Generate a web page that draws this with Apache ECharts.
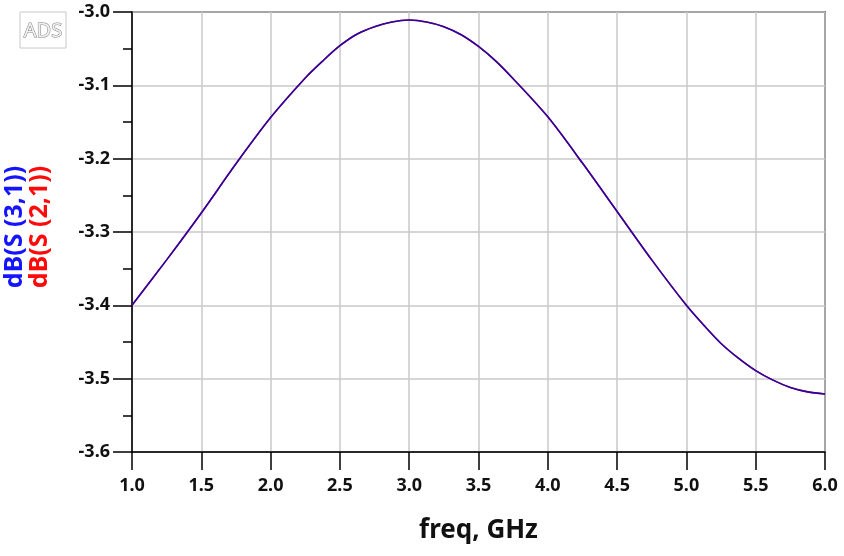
<!DOCTYPE html>
<html>
<head>
<meta charset="utf-8">
<script src="https://cdn.jsdelivr.net/npm/echarts@6/dist/echarts.min.js"></script>
<style>
  html, body { margin: 0; padding: 0; background: #fff; }
  #chart { width: 844px; height: 556px; }
</style>
</head>
<body>
<div id="chart"></div>
<script>
// frequency in GHz (finer sampling where the curve bends most)
const freq = [1.0, 1.25, 1.5, 1.75, 2.0, 2.25, 2.375, 2.5, 2.625, 2.75, 2.875, 3.0, 3.125, 3.25, 3.375, 3.5, 3.625, 3.75, 4.0, 4.25, 4.5, 4.75, 5.0, 5.125, 5.25, 5.375, 5.5, 5.625, 5.75, 5.875, 6.0];
// dB values (S31 and S21 lie on top of each other)
const s31 = [-3.400, -3.338, -3.274, -3.207, -3.144, -3.090, -3.067, -3.046, -3.030, -3.020, -3.0136, -3.011, -3.0136, -3.020, -3.031, -3.047, -3.067, -3.091, -3.143, -3.206, -3.272, -3.338, -3.400, -3.427, -3.452, -3.472, -3.489, -3.502, -3.512, -3.518, -3.521];
const s21 = s31.slice();
const yTicks = [-3.6, -3.5, -3.4, -3.3, -3.2, -3.1, -3.0];

const font = 'Noto Sans';
const chart = echarts.init(document.getElementById('chart'));

const toPairs = (ys) => freq.map((f, i) => [f, ys[i]]);

const option = {
    animation: false,
    grid: {
        left: 132,
        right: 19,
        top: 12,
        bottom: 104,
        show: true,
        borderColor: '#000',
        borderWidth: 1.5,
        backgroundColor: 'transparent'
    },
    xAxis: {
        type: 'value',
        min: 1.0,
        max: 6.0,
        interval: 0.5,
        name: 'freq, GHz',
        nameLocation: 'middle',
        nameGap: 66,
        nameTextStyle: { fontFamily: font, fontWeight: 'bold', fontSize: 26, color: '#111' },
        axisLine: { show: true, lineStyle: { color: '#000', width: 1.5 } },
        axisTick: { show: true, length: 18, lineStyle: { color: '#000', width: 1.5 } },
        axisLabel: {
            margin: 25,
            fontFamily: font,
            fontWeight: 'bold',
            fontSize: 18,
            color: '#111',
            formatter: (v) => v.toFixed(1)
        },
        splitLine: { show: true, lineStyle: { color: '#c8c8c8', width: 1.5 } }
    },
    yAxis: {
        type: 'value',
        min: yTicks[0],
        max: yTicks[yTicks.length - 1],
        interval: 0.1,
        axisLine: { show: true, lineStyle: { color: '#000', width: 1.5 } },
        axisTick: { show: true, length: 19, lineStyle: { color: '#000', width: 1.5 } },
        minorTick: { show: true, splitNumber: 2, length: 9, lineStyle: { color: '#000', width: 1.5 } },
        axisLabel: {
            margin: 22,
            fontFamily: font,
            fontWeight: 'bold',
            fontSize: 18,
            color: '#111',
            formatter: (v) => v.toFixed(1)
        },
        splitLine: { show: true, lineStyle: { color: '#c8c8c8', width: 1.5 } }
    },
    graphic: [
        {
            type: 'rect',
            shape: { x: 20, y: 12, width: 46, height: 36 },
            style: { fill: '#fff', stroke: '#c8c8c8', lineWidth: 1 }
        },
        {
            type: 'text',
            x: 43,
            y: 31,
            style: {
                text: 'ADS',
                fontFamily: font,
                fontSize: 20,
                fill: '#f0f0f0',
                stroke: '#808080',
                lineWidth: 1,
                align: 'center',
                verticalAlign: 'middle'
            }
        },
        {
            type: 'text',
            x: 15,
            y: 227,
            rotation: Math.PI / 2,
            style: {
                text: 'dB(S (3,1))',
                fontFamily: font,
                fontWeight: 'bold',
                fontSize: 25,
                fill: '#1414ff',
                align: 'center',
                verticalAlign: 'middle'
            }
        },
        {
            type: 'text',
            x: 40,
            y: 227,
            rotation: Math.PI / 2,
            style: {
                text: 'dB(S (2,1))',
                fontFamily: font,
                fontWeight: 'bold',
                fontSize: 25,
                fill: '#ff0a0a',
                align: 'center',
                verticalAlign: 'middle'
            }
        }
    ],
    series: [
        {
            name: 'dB(S(2,1))',
            type: 'line',
            smooth: 0.3,
            showSymbol: false,
            data: toPairs(s21),
            lineStyle: { color: '#d00000', width: 1.6 }
        },
        {
            name: 'dB(S(3,1))',
            type: 'line',
            smooth: 0.3,
            showSymbol: false,
            data: toPairs(s31),
            lineStyle: { color: '#0000d0', width: 1.6, opacity: 0.8 }
        }
    ]
};

chart.setOption(option);
</script>
</body>
</html>
